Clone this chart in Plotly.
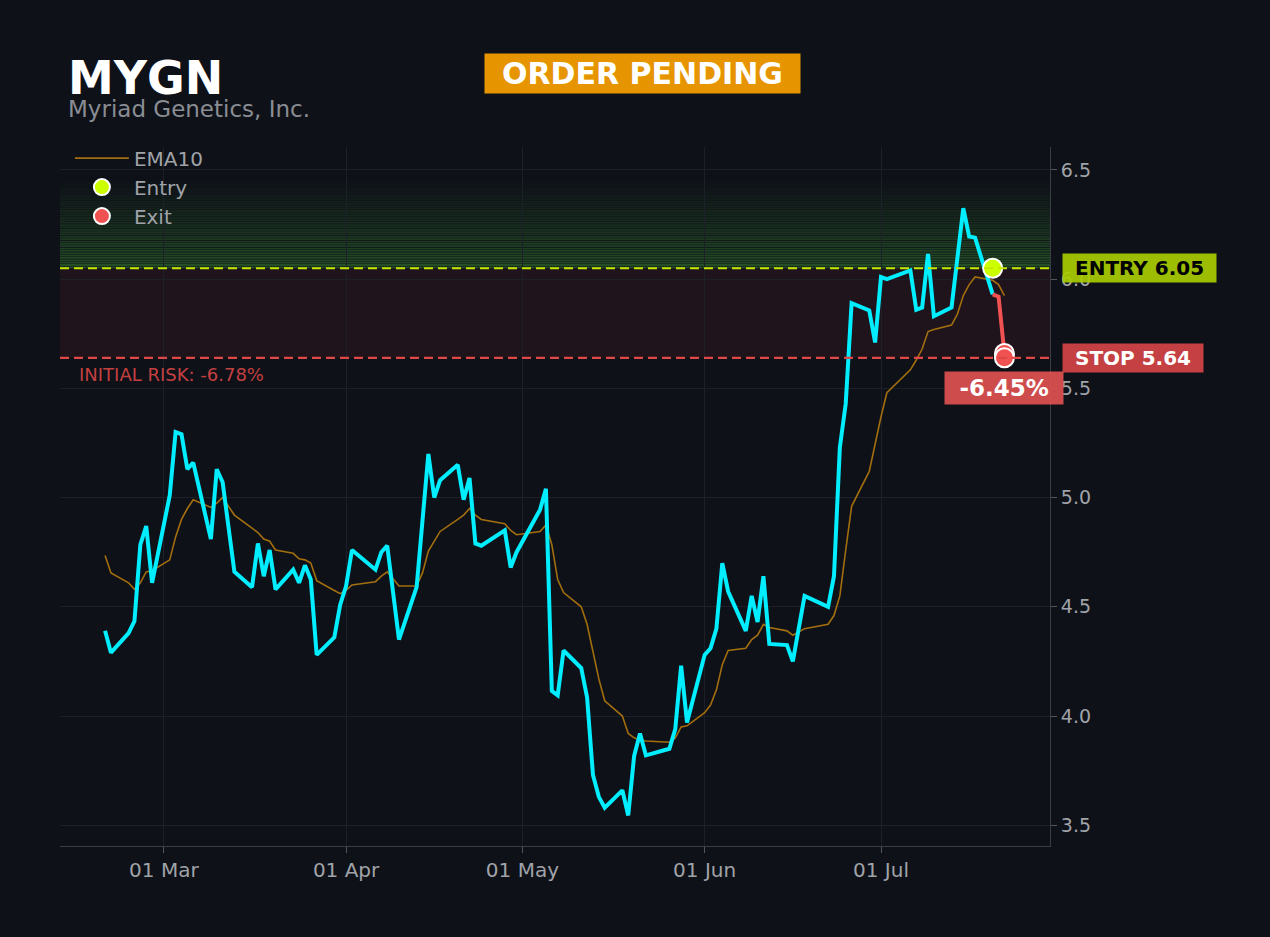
import plotly.graph_objects as go

# close prices (trading days, 2026)
dates = ["2026-02-19", "2026-02-20", "2026-02-23", "2026-02-24", "2026-02-25", "2026-02-26", "2026-02-27",
         "2026-03-02", "2026-03-03", "2026-03-04", "2026-03-05", "2026-03-06", "2026-03-09", "2026-03-10",
         "2026-03-11", "2026-03-13", "2026-03-16", "2026-03-17", "2026-03-18", "2026-03-19", "2026-03-20",
         "2026-03-23", "2026-03-24", "2026-03-25", "2026-03-26", "2026-03-27", "2026-03-30", "2026-03-31",
         "2026-04-01", "2026-04-02", "2026-04-06", "2026-04-07", "2026-04-08", "2026-04-10", "2026-04-13",
         "2026-04-15", "2026-04-16", "2026-04-17", "2026-04-20", "2026-04-21", "2026-04-22", "2026-04-23",
         "2026-04-24", "2026-04-28", "2026-04-29", "2026-04-30", "2026-05-04", "2026-05-05", "2026-05-06",
         "2026-05-07", "2026-05-08", "2026-05-11", "2026-05-12", "2026-05-13", "2026-05-14", "2026-05-15",
         "2026-05-18", "2026-05-19", "2026-05-20", "2026-05-21", "2026-05-22", "2026-05-26", "2026-05-27",
         "2026-05-28", "2026-05-29", "2026-06-01", "2026-06-02", "2026-06-03", "2026-06-04", "2026-06-05",
         "2026-06-08", "2026-06-09", "2026-06-10", "2026-06-11", "2026-06-12", "2026-06-15", "2026-06-16",
         "2026-06-18", "2026-06-22", "2026-06-23", "2026-06-24", "2026-06-25", "2026-06-26", "2026-06-29",
         "2026-06-30", "2026-07-01", "2026-07-02", "2026-07-06", "2026-07-07", "2026-07-08", "2026-07-09",
         "2026-07-10", "2026-07-13", "2026-07-15", "2026-07-16", "2026-07-17", "2026-07-20", "2026-07-21",
         "2026-07-22"]
close = [4.39, 4.29, 4.38, 4.435, 4.785, 4.87, 4.61, 5.01, 5.30, 5.29,
         5.13, 5.16, 4.81, 5.13, 5.07, 4.66, 4.59, 4.79, 4.64, 4.76,
         4.58, 4.67, 4.61, 4.69, 4.625, 4.28, 4.36, 4.51, 4.595, 4.76,
         4.67, 4.75, 4.78, 4.35, 4.59, 5.20, 5.00, 5.08, 5.15, 4.99,
         5.09, 4.79, 4.78, 4.85, 4.68, 4.75, 4.945, 5.04, 4.115, 4.095,
         4.30, 4.22, 4.085, 3.73, 3.63, 3.58, 3.66, 3.545, 3.817, 3.92,
         3.82, 3.85, 3.94, 4.23, 3.97, 4.28, 4.31, 4.40, 4.70, 4.57,
         4.39, 4.55, 4.43, 4.64, 4.33, 4.325, 4.25, 4.55, 4.50, 4.64,
         5.23, 5.43, 5.89, 5.857, 5.71, 6.01, 6.00, 6.04, 5.86, 5.87,
         6.115, 5.83, 5.87, 6.325, 6.195, 6.19, 5.93, 5.92, 5.66]

ema_dates = ["2026-02-19", "2026-02-20", "2026-02-23", "2026-02-24", "2026-02-25", "2026-02-26", "2026-02-27",
             "2026-03-02", "2026-03-03", "2026-03-04", "2026-03-05", "2026-03-06", "2026-03-09", "2026-03-10",
             "2026-03-11", "2026-03-13", "2026-03-16", "2026-03-17", "2026-03-18", "2026-03-19", "2026-03-20",
             "2026-03-23", "2026-03-24", "2026-03-25", "2026-03-26", "2026-03-27", "2026-03-30", "2026-03-31",
             "2026-04-01", "2026-04-02", "2026-04-06", "2026-04-07", "2026-04-08", "2026-04-10", "2026-04-13",
             "2026-04-14", "2026-04-15", "2026-04-16", "2026-04-17", "2026-04-20", "2026-04-21", "2026-04-22",
             "2026-04-23", "2026-04-24", "2026-04-28", "2026-04-29", "2026-04-30", "2026-05-04", "2026-05-05",
             "2026-05-06", "2026-05-07", "2026-05-08", "2026-05-11", "2026-05-12", "2026-05-13", "2026-05-14",
             "2026-05-15", "2026-05-18", "2026-05-19", "2026-05-20", "2026-05-21", "2026-05-22", "2026-05-26",
             "2026-05-27", "2026-05-28", "2026-05-29", "2026-06-01", "2026-06-02", "2026-06-03", "2026-06-04",
             "2026-06-05", "2026-06-08", "2026-06-09", "2026-06-10", "2026-06-11", "2026-06-12", "2026-06-15",
             "2026-06-16", "2026-06-18", "2026-06-22", "2026-06-23", "2026-06-24", "2026-06-25", "2026-06-26",
             "2026-06-29", "2026-06-30", "2026-07-01", "2026-07-02", "2026-07-06", "2026-07-07", "2026-07-08",
             "2026-07-09", "2026-07-10", "2026-07-13", "2026-07-14", "2026-07-15", "2026-07-16", "2026-07-17",
             "2026-07-20", "2026-07-21", "2026-07-22"]
ema10 = [4.735, 4.655, 4.61, 4.58, 4.61, 4.66, 4.665, 4.715, 4.82, 4.90,
         4.95, 4.99, 4.955, 4.975, 5.00, 4.92, 4.86, 4.84, 4.81, 4.80,
         4.76, 4.745, 4.72, 4.715, 4.70, 4.62, 4.575, 4.56, 4.575, 4.60,
         4.615, 4.64, 4.66, 4.595, 4.595, 4.655, 4.755, 4.80, 4.845, 4.90,
         4.92, 4.95, 4.92, 4.90, 4.88, 4.85, 4.83, 4.845, 4.875, 4.785,
         4.625, 4.565, 4.50, 4.42, 4.30, 4.17, 4.07, 4.00, 3.92, 3.90,
         3.89, 3.886, 3.88, 3.90, 3.95, 3.955, 4.015, 4.05, 4.12, 4.235,
         4.30, 4.31, 4.35, 4.37, 4.42, 4.405, 4.39, 4.37, 4.40, 4.42,
         4.46, 4.55, 4.76, 4.96, 5.12, 5.25, 5.37, 5.48, 5.585, 5.63,
         5.68, 5.76, 5.77, 5.79, 5.84, 5.925, 5.975, 6.01, 5.995, 5.975,
         5.925]

ticker = "MYGN"
company = "Myriad Genetics, Inc."
status = "ORDER PENDING"
entry_price = 6.05
stop_price = 5.64
entry_date = "2026-07-20"
exit_date = "2026-07-22"
exit_prices = [5.66, 5.64]
zone_top = 6.48

font = "DejaVu Sans"
bg = "#0e1118"
grid = "#1d2028"
sp = "\u2002"

entry_idx = dates.index(entry_date)
pnl = exit_prices[0] / entry_price - 1
risk = stop_price / entry_price - 1

fig = go.Figure()

# green gradient above entry, drawn as thin bands
n = 40
step = (zone_top - entry_price) / n
for i in range(n):
    a = 0.42 * (1 - i / n) ** 1.2
    fig.add_shape(type="rect", xref="paper", x0=0, x1=1, yref="y",
                  y0=entry_price + i * step, y1=entry_price + (i + 0.75) * step,
                  fillcolor=f"rgba(70,165,60,{a:.3f})", line_width=0, layer="below")

# risk zone
fig.add_shape(type="rect", xref="paper", x0=0, x1=1, yref="y", y0=stop_price, y1=entry_price,
              fillcolor="rgba(239,68,80,0.08)", line_width=0, layer="below")
fig.add_shape(type="line", xref="paper", x0=0, x1=1, yref="y", y0=entry_price, y1=entry_price,
              line=dict(color="#c6e600", width=2.2, dash="9px,5px"))
fig.add_shape(type="line", xref="paper", x0=0, x1=1, yref="y", y0=stop_price, y1=stop_price,
              line=dict(color="#e04848", width=2.2, dash="9px,5px"))

fig.add_trace(go.Scatter(x=ema_dates, y=ema10, mode="lines", name="EMA10",
                         line=dict(color="#a26e0e", width=1.6)))
fig.add_trace(go.Scatter(x=dates[:entry_idx + 1], y=close[:entry_idx + 1], mode="lines",
                         line=dict(color="#00eeff", width=4), showlegend=False))
fig.add_trace(go.Scatter(x=dates[entry_idx:], y=close[entry_idx:], mode="lines",
                         line=dict(color="#f05252", width=4), showlegend=False))
fig.add_trace(go.Scatter(x=[entry_date], y=[entry_price], mode="markers", name="Entry",
                         marker=dict(color="#ccff00", size=19, line=dict(color="white", width=2))))
fig.add_trace(go.Scatter(x=[exit_date] * len(exit_prices), y=exit_prices, mode="markers", name="Exit",
                         marker=dict(color="#f05252", size=19, line=dict(color="white", width=2))))

# header
fig.add_annotation(xref="paper", x=0.006, yref="paper", y=1.099, text=f"<b>{ticker}</b>", showarrow=False,
                   xanchor="left", yanchor="middle", font=dict(size=46, color="white", family=font))
fig.add_annotation(xref="paper", x=0.006, yref="paper", y=1.055, text=company, showarrow=False,
                   xanchor="left", yanchor="middle", font=dict(size=23, color="#8a8d93", family=font))
fig.add_annotation(xref="paper", x=0.588, yref="paper", y=1.105, text=f"<b>{sp}{status}{sp}</b>",
                   showarrow=False, xanchor="center", yanchor="middle", bgcolor="#e69500",
                   borderpad=2, font=dict(size=30, color="white", family=font))

# price labels on the right
fig.add_annotation(xref="paper", x=1.012, yref="y", y=entry_price,
                   text=f"<b>{sp}ENTRY {entry_price:.2f}{sp}</b>",
                   showarrow=False, xanchor="left", yanchor="middle", bgcolor="rgba(168,204,0,0.92)",
                   borderpad=2, font=dict(size=20, color="black", family=font))
fig.add_annotation(xref="paper", x=1.012, yref="y", y=stop_price,
                   text=f"<b>{sp}STOP {stop_price:.2f}{sp}</b>",
                   showarrow=False, xanchor="left", yanchor="middle", bgcolor="rgba(208,67,70,0.95)",
                   borderpad=2, font=dict(size=20, color="white", family=font))
fig.add_annotation(x=exit_date, yref="y", y=5.50, text=f"<b>{sp}{pnl * 100:.2f}%{sp}</b>",
                   showarrow=False, xanchor="center", yanchor="middle", bgcolor="rgba(217,80,79,0.95)",
                   borderpad=3, font=dict(size=23, color="white", family=font))
fig.add_annotation(xref="paper", x=0.017, yref="y", y=5.565, text=f"INITIAL RISK: {risk * 100:.2f}%",
                   showarrow=False, xanchor="left", yanchor="middle",
                   font=dict(size=18, color="#c44040", family=font))

fig.update_layout(
    width=1270, height=937,
    paper_bgcolor=bg, plot_bgcolor=bg,
    margin=dict(l=60, r=220, t=147, b=91),
    font=dict(family=font, color="#a0a3a8", size=18),
    legend=dict(x=0.01, y=1.012, xanchor="left", yanchor="top", bgcolor="rgba(0,0,0,0)",
                itemwidth=54, font=dict(size=20, color="#a0a3a8")),
    xaxis=dict(range=["2026-02-11 08:00", "2026-07-29 18:00"], showgrid=True, gridcolor=grid,
               tickformat="%d %b", dtick="M1", tick0="2026-03-01", ticks="outside", ticklen=6,
               tickcolor="#555", showline=True, linecolor="#3a3d44", zeroline=False,
               tickfont=dict(size=20, color="#a0a3a8")),
    yaxis=dict(range=[3.405, 6.605], side="right", showgrid=True, gridcolor=grid, dtick=0.5,
               tickformat=".1f", ticks="outside", ticklen=6, tickcolor="#555", showline=True,
               linecolor="#3a3d44", zeroline=False, tickfont=dict(size=19, color="#a0a3a8")),
)

fig.write_html("out.html", config={"displayModeBar": False},
               post_script="document.body.style.margin='0';"
                           "document.body.style.background='#0e1118';")
